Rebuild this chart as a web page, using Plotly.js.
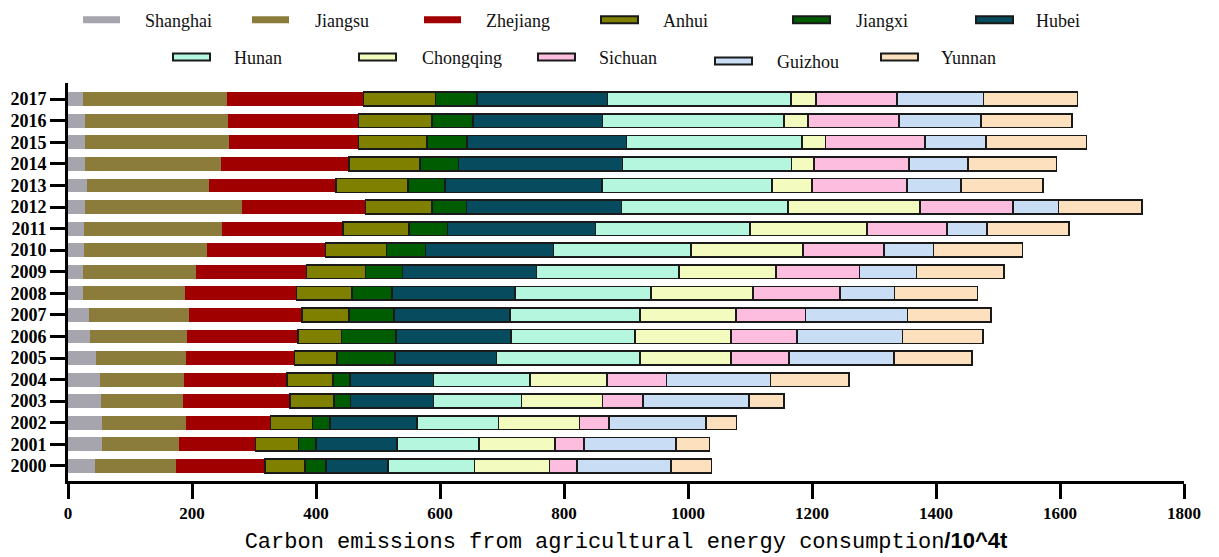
<!DOCTYPE html>
<html>
<head>
<meta charset="utf-8">
<script src="https://cdn.plot.ly/plotly-3.0.1.min.js"></script>
<style>html,body{margin:0;padding:0;background:#fff;}#chart{width:1219px;height:557px;}</style>
</head>
<body>
<div id="chart"></div>
<script>
// ---- data ----
const years = ['2000','2001','2002','2003','2004','2005','2006','2007','2008','2009','2010','2011','2012','2013','2014','2015','2016','2017'];
const provinces = ['Shanghai','Jiangsu','Zhejiang','Anhui','Jiangxi','Hubei','Hunan','Chongqing','Sichuan','Guizhou','Yunnan'];
const shanghai  = [44.0, 54.8, 54.8, 52.9, 51.0, 45.3, 35.7, 33.2, 24.9, 24.2, 25.5, 25.5, 27.4, 30.0, 28.1, 27.4, 26.8, 23.6];
const jiangsu   = [129.5, 124.4, 135.9, 132.7, 136.5, 145.4, 156.9, 161.3, 163.9, 182.4, 199.0, 223.2, 252.6, 197.7, 218.7, 232.2, 230.9, 232.1];
const zhejiang  = [144.1, 123.1, 135.8, 172.8, 165.8, 174.7, 177.9, 183.1, 179.8, 178.0, 190.7, 195.2, 199.6, 204.7, 206.6, 209.2, 211.1, 220.7];
const anhui     = [65.1, 69.5, 67.6, 70.8, 74.0, 68.3, 70.8, 75.2, 89.9, 95.0, 98.2, 106.5, 107.1, 116.1, 114.8, 110.3, 117.9, 116.1];
const jiangxi   = [33.8, 28.1, 28.7, 26.2, 27.4, 93.7, 88.0, 73.3, 63.8, 59.9, 63.1, 61.8, 56.2, 59.3, 61.9, 64.4, 66.4, 67.6];
const hubei     = [99.4, 130.7, 139.7, 133.9, 134.6, 163.9, 185.6, 186.9, 198.4, 216.2, 206.7, 238.6, 249.7, 253.8, 264.4, 257.4, 209.0, 209.9];
const hunan     = [139.7, 132.7, 132.0, 142.2, 155.6, 231.3, 199.4, 209.6, 219.7, 229.3, 221.5, 248.8, 268.2, 274.3, 272.7, 282.8, 293.0, 296.5];
const chongqing = [121.2, 121.8, 130.8, 130.4, 124.8, 146.5, 154.8, 154.7, 164.3, 156.7, 180.3, 189.2, 213.4, 63.7, 36.3, 38.2, 38.8, 39.5];
const sichuan   = [44.6, 47.2, 47.0, 65.1, 95.5, 93.6, 107.0, 112.1, 140.8, 135.0, 131.2, 129.3, 150.3, 153.6, 152.8, 159.9, 146.5, 131.2];
const guizhou   = [151.5, 148.2, 156.7, 171.4, 167.6, 169.4, 170.0, 164.4, 87.3, 91.7, 79.6, 63.7, 73.2, 87.2, 95.6, 98.7, 132.5, 139.5];
const yunnan    = [65.0, 54.2, 49.0, 56.0, 127.2, 125.5, 130.0, 135.0, 134.4, 141.5, 144.0, 132.5, 134.5, 132.6, 142.6, 162.5, 146.5, 151.6];
const xTickVals = [0,200,400,600,800,1000,1200,1400,1600,1800];

// ---- styles ----
const seriesData = [shanghai, jiangsu, zhejiang, anhui, jiangxi, hubei, hunan, chongqing, sichuan, guizhou, yunnan];
const colors = ['#A6A5AD','#8B7C3B','#A00000','#808000','#005C00','#074B5E','#B5F6DE','#F3FBBE','#FCBDDF','#C9DDF5','#FDE0BE'];
const bordered = [false,false,false,true,true,true,true,true,true,true,true];
// legend layout (pixel positions): swatch left, swatch centre y, text left
const legendPos = [
  [83,19.7,143],[252,19.7,313],[424,19.7,484],[601,19.7,661],[793,19.7,854],[976,19.7,1034],
  [173,57,232],[359,57,420],[538,57,597],[715,61,775],[881,57,939]
];

const M = {l:68, r:35, t:83, b:76};
const W = 1219, H = 557;
const pw = W - M.l - M.r, ph = H - M.t - M.b;
const px2x = p => (p - M.l) / pw;
const py2y = p => (H - M.b - p) / ph;

const traces = provinces.map((name, i) => ({
  type: 'bar',
  orientation: 'h',
  name: name,
  y: years,
  x: seriesData[i],
  marker: {
    color: colors[i],
    line: {color: bordered[i] ? '#1a1a1a' : colors[i], width: bordered[i] ? 1.6 : 0}
  },
  showlegend: false,
  hoverinfo: 'x+name'
}));

const shapes = [];
const annotations = [];
provinces.forEach((name, i) => {
  const [sx, sy, tx] = legendPos[i];
  shapes.push({
    type: 'rect', xref: 'paper', yref: 'paper',
    x0: px2x(sx), x1: px2x(sx + 37),
    y0: py2y(sy + 3.5), y1: py2y(sy - 3.5),
    fillcolor: colors[i],
    line: {color: bordered[i] ? '#1a1a1a' : colors[i], width: bordered[i] ? 2 : 0}
  });
  annotations.push({
    xref: 'paper', yref: 'paper', x: px2x(tx), y: py2y(sy + 1),
    xanchor: 'left', yanchor: 'middle', showarrow: false,
    text: name,
    font: {family: '"Liberation Serif", "Times New Roman", serif', size: 18, color: '#111'}
  });
});

const layout = {
  width: W, height: H,
  margin: M,
  paper_bgcolor: '#fff', plot_bgcolor: '#fff',
  barmode: 'stack',
  bargap: 0.36,
  showlegend: false,
  xaxis: {
    range: [0, 1800],
    tickmode: 'array',
    tickvals: xTickVals,
    ticktext: xTickVals.map(String),
    showgrid: false, zeroline: false,
    showline: true, linecolor: '#000', linewidth: 3,
    ticks: 'outside', ticklen: 15, tickwidth: 3, tickcolor: '#000',
    tickfont: {family: '"Liberation Serif", "Times New Roman", serif', size: 17, color: '#000', weight: 'bold'},
    automargin: false,
    title: {
      text: 'Carbon emissions from agricultural energy consumption<span style="font-family:\'Liberation Sans Narrow\',\'Liberation Sans\',Arial,sans-serif;font-weight:bold">/10^4t</span>',
      font: {family: '"Liberation Mono", "Courier New", monospace', size: 22, color: '#000'},
      standoff: 11
    }
  },
  yaxis: {
    type: 'category',
    range: [-0.7, 17.75],
    tickmode: 'array',
    tickvals: years,
    ticktext: years,
    showgrid: false, zeroline: false,
    showline: true, linecolor: '#000', linewidth: 3,
    ticks: 'outside', ticklen: 15, tickwidth: 3, tickcolor: '#000',
    tickfont: {family: '"Liberation Serif", "Times New Roman", serif', size: 18, color: '#000', weight: 'bold'},
    automargin: false
  },
  shapes: shapes,
  annotations: annotations
};

Plotly.newPlot('chart', traces, layout, {displayModeBar: false});
</script>
</body>
</html>
